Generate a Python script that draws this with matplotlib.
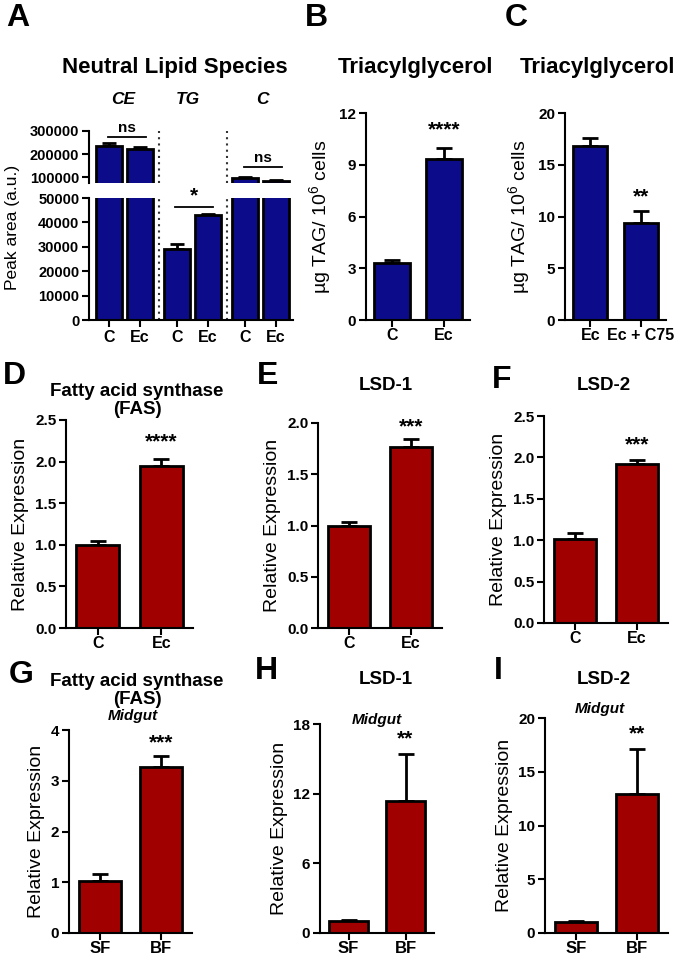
import matplotlib
matplotlib.use('Agg')
import matplotlib.pyplot as plt

plt.rcParams['font.family'] = ['Liberation Sans', 'DejaVu Sans']
plt.rcParams['mathtext.fontset'] = 'custom'
plt.rcParams['mathtext.rm'] = 'Liberation Sans'

W, H = 685, 959
NAVY = '#0c0c8a'
RED = '#a00000'

# ----------------------- data ----------------------------------------------
lipid_groups = ['CE', 'TG', 'C']
lipid_ticks = ['C', 'Ec', 'C', 'Ec', 'C', 'Ec']
lipid_pos = [0, 1, 2.2, 3.2, 4.4, 5.4]
lipid_mean = [235000, 223000, 29000, 43000, 95000, 84000]
lipid_sem = [14000, 7000, 2000, 500, 5000, 3000]

tag_b_labels = ['C', 'Ec']
tag_b_mean = [3.3, 9.35]
tag_b_sem = [0.2, 0.65]

tag_c_labels = ['Ec', 'Ec + C75']
tag_c_mean = [16.8, 9.4]
tag_c_sem = [0.8, 1.1]

cell_labels = ['C', 'Ec']
fas_mean = [1.00, 1.95]
fas_sem = [0.045, 0.085]
lsd1_mean = [1.00, 1.77]
lsd1_sem = [0.03, 0.07]
lsd2_mean = [1.01, 1.92]
lsd2_sem = [0.08, 0.045]

midgut_labels = ['SF', 'BF']
fas_mg_mean = [1.03, 3.27]
fas_mg_sem = [0.13, 0.21]
lsd1_mg_mean = [1.0, 11.4]
lsd1_mg_sem = [0.15, 4.05]
lsd2_mg_mean = [1.02, 12.95]
lsd2_mg_sem = [0.12, 4.2]


def px_axes(fig, left, top, right, bottom):
    return fig.add_axes([left / W, 1 - bottom / H, (right - left) / W, (bottom - top) / H])


def ftext(fig, x, y, s, **kw):
    fig.text(x / W, 1 - y / H, s, ha='center', va='center', **kw)


def style(ax, tick_size=11):
    for side in ('top', 'right'):
        ax.spines[side].set_visible(False)
    for side in ('left', 'bottom'):
        ax.spines[side].set_linewidth(1.5)
    ax.tick_params(direction='out', length=5, width=1.5, labelsize=tick_size, pad=2)
    for lab in ax.get_xticklabels() + ax.get_yticklabels():
        lab.set_fontweight('bold')


def bar_panel(ax, labels, mean, sem, color, yticks, fmt, ylabel, stars, star_y,
              xtick_size=11.5):
    x = list(range(len(mean)))
    ax.bar(x, mean, width=0.68, color=color, edgecolor='black', linewidth=2, zorder=2)
    ax.errorbar(x, mean, yerr=[[0] * len(sem), sem], fmt='none', ecolor='black',
                elinewidth=2, capsize=6, capthick=2, zorder=1)
    ax.set_xlim(-0.5, 1.5)
    ax.set_ylim(yticks[0], yticks[-1])
    ax.set_yticks(yticks)
    ax.set_yticklabels([fmt.format(v) for v in yticks])
    ax.set_xticks(x)
    ax.set_xticklabels(labels)
    style(ax)
    ax.tick_params(axis='x', pad=1)
    for lab in ax.get_xticklabels():
        lab.set_fontsize(xtick_size)
    ax.set_ylabel(ylabel, fontsize=14, labelpad=4)
    ax.text(1, star_y, stars, ha='center', va='center', fontsize=15, fontweight='bold')


fig = plt.figure(figsize=(W / 100, H / 100), dpi=100)

# ----------------------- A: broken axis ------------------------
ax_up = px_axes(fig, 89, 131, 293, 183)
ax_lo = px_axes(fig, 89, 198, 293, 320)
for ax in (ax_up, ax_lo):
    ax.bar(lipid_pos, lipid_mean, width=0.84, color=NAVY, edgecolor='black', linewidth=2, zorder=2)
    ax.errorbar(lipid_pos, lipid_mean, yerr=[[0] * 6, lipid_sem], fmt='none', ecolor='black',
                elinewidth=2, capsize=5, capthick=2, zorder=1)
    ax.set_xlim(-0.65, 5.95)
    for xs in (1.61, 3.8):
        ax.axvline(xs, color='#333333', linestyle=(0, (1, 2)), linewidth=1.5)
ax_up.set_ylim(74000, 300000)
ax_up.set_yticks([100000, 200000, 300000])
ax_up.set_xticks([])
ax_up.spines['bottom'].set_visible(False)
style(ax_up, 10.5)
ax_lo.set_ylim(0, 50000)
ax_lo.set_yticks(range(0, 50001, 10000))
ax_lo.set_xticks(lipid_pos)
ax_lo.set_xticklabels(lipid_ticks)
style(ax_lo, 10.5)
for lab in ax_lo.get_xticklabels():
    lab.set_fontsize(11.5)

# significance marks
ax_up.plot([-0.05, 1.2], [274000, 274000], color='black', lw=1.3, clip_on=False)
ax_up.text(0.58, 312000, 'ns', ha='center', va='center', fontsize=11, fontweight='bold')
ax_up.plot([4.35, 5.6], [143000, 143000], color='black', lw=1.3, clip_on=False)
ax_up.text(4.97, 182000, 'ns', ha='center', va='center', fontsize=11, fontweight='bold')
ax_lo.plot([2.13, 3.35], [46300, 46300], color='black', lw=1.3, clip_on=False)
ax_lo.text(2.74, 51000, '*', ha='center', va='center', fontsize=15, fontweight='bold')

ftext(fig, 13, 227, 'Peak area (a.u.)', fontsize=12.5, rotation=90)
ftext(fig, 175, 68, 'Neutral Lipid Species', fontsize=16, fontweight='bold')
for name, xp in zip(lipid_groups, (123, 188, 262)):
    ftext(fig, xp, 100, name, fontsize=12.5, fontweight='bold', style='italic')

# ----------------------- B, C ------------------------
ax_b = px_axes(fig, 366, 113, 470, 320)
bar_panel(ax_b, tag_b_labels, tag_b_mean, tag_b_sem, NAVY, [0, 3, 6, 9, 12], '{:g}',
          r'µg TAG/ 10$^{6}$ cells', '****', 11.0)
ax_c = px_axes(fig, 565, 113, 666, 320)
bar_panel(ax_c, tag_c_labels, tag_c_mean, tag_c_sem, NAVY, [0, 5, 10, 15, 20], '{:g}',
          r'µg TAG/ 10$^{6}$ cells', '**', 11.9)
ftext(fig, 415, 68, 'Triacylglycerol', fontsize=16, fontweight='bold')
ftext(fig, 598, 68, 'Triacylglycerol', fontsize=16, fontweight='bold')

# ----------------------- D, E, F ------------------------
ax_d = px_axes(fig, 66, 420, 193, 628)
bar_panel(ax_d, cell_labels, fas_mean, fas_sem, RED, [0, 0.5, 1.0, 1.5, 2.0, 2.5], '{:.1f}',
          'Relative Expression', '****', 2.24)
ax_e = px_axes(fig, 318, 423, 442, 628)
bar_panel(ax_e, cell_labels, lsd1_mean, lsd1_sem, RED, [0, 0.5, 1.0, 1.5, 2.0], '{:.1f}',
          'Relative Expression', '***', 1.96)
ax_f = px_axes(fig, 544, 416, 668, 623)
bar_panel(ax_f, cell_labels, lsd2_mean, lsd2_sem, RED, [0, 0.5, 1.0, 1.5, 2.0, 2.5], '{:.1f}',
          'Relative Expression', '***', 2.15)
ftext(fig, 137, 392, 'Fatty acid synthase', fontsize=13.5, fontweight='bold')
ftext(fig, 137, 410, '(FAS)', fontsize=13.5, fontweight='bold')
ftext(fig, 386, 386, 'LSD-1', fontsize=13.5, fontweight='bold')
ftext(fig, 604, 386, 'LSD-2', fontsize=13.5, fontweight='bold')

# ----------------------- G, H, I ------------------------
ax_g = px_axes(fig, 69, 730, 192, 933)
bar_panel(ax_g, midgut_labels, fas_mg_mean, fas_mg_sem, RED, [0, 1, 2, 3, 4], '{:g}',
          'Relative Expression', '***', 3.74, xtick_size=12)
ax_h = px_axes(fig, 320, 724, 434, 933)
bar_panel(ax_h, midgut_labels, lsd1_mg_mean, lsd1_mg_sem, RED, [0, 6, 12, 18], '{:g}',
          'Relative Expression', '**', 16.7, xtick_size=12)
ax_i = px_axes(fig, 545, 718, 668, 933)
bar_panel(ax_i, midgut_labels, lsd2_mg_mean, lsd2_mg_sem, RED, [0, 5, 10, 15, 20], '{:g}',
          'Relative Expression', '**', 18.5, xtick_size=12)
ftext(fig, 137, 682, 'Fatty acid synthase', fontsize=13.5, fontweight='bold')
ftext(fig, 137, 700, '(FAS)', fontsize=13.5, fontweight='bold')
ftext(fig, 386, 680, 'LSD-1', fontsize=13.5, fontweight='bold')
ftext(fig, 604, 680, 'LSD-2', fontsize=13.5, fontweight='bold')
for xp, yp in ((133, 716), (377, 720), (600, 709)):
    ftext(fig, xp, yp, 'Midgut', fontsize=11, fontweight='bold', style='italic')

# ----------------------- panel letters ------------------------
for letter, xp, yp in (('A', 18, 18), ('B', 316, 18), ('C', 516, 18),
                       ('D', 14, 376), ('E', 268, 376), ('F', 502, 380),
                       ('G', 21, 675), ('H', 266, 671), ('I', 498, 671)):
    ftext(fig, xp, yp, letter, fontsize=23, fontweight='bold')

fig.savefig('out.png', dpi=100)
